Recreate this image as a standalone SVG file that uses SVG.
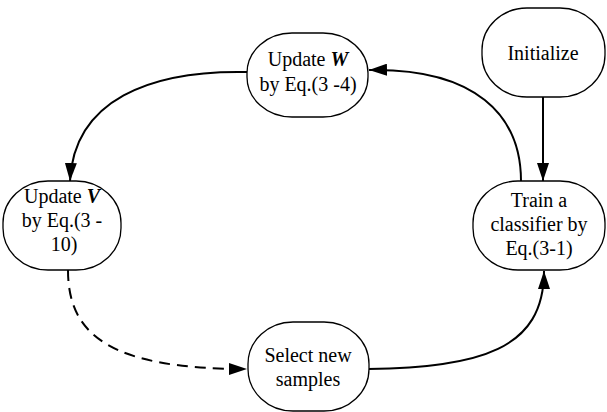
<svg xmlns="http://www.w3.org/2000/svg" width="607" height="412" viewBox="0 0 607 412">
<style>
.node{fill:#fff;stroke:#000;stroke-width:1.3}
text{font-family:'Liberation Serif','Times New Roman',Times,serif;font-size:20px;fill:#000;text-anchor:middle}
.bi{font-weight:bold;font-style:italic}
.c{fill:none;stroke:#000;stroke-width:2}
.d{stroke-dasharray:11,7}
</style>
<defs>
<marker id="ah" viewBox="0 0 18 12" refX="18" refY="6" markerWidth="18" markerHeight="12" markerUnits="userSpaceOnUse" orient="auto">
<path d="M0,0 L18,6 L0,12 Z" fill="#000"/>
</marker>
</defs>
<g id="connectors">
<path class="c" d="M543,97 L543,181" marker-end="url(#ah)"/>
<path class="c" d="M521,181 C521,115 475,68 369,70" marker-end="url(#ah)"/>
<path class="c" d="M247,72 C150,70 74,100 70,181" marker-end="url(#ah)"/>
<path class="c d" d="M68,270 C68,335 110,369 247,369" marker-end="url(#ah)"/>
<path class="c" d="M368,369 C480,367 544,350 544,271" marker-end="url(#ah)"/>
</g>
<g id="update-w">
<rect class="node" x="247" y="33" width="121" height="84" rx="45" ry="40"/>
<text x="308" y="66" font-family="Liberation Serif, serif">Update <tspan class="bi">W</tspan></text>
<text x="308" y="91" font-family="Liberation Serif, serif">by Eq.(3 -4)</text>
</g>
<g id="initialize">
<rect class="node" x="482" y="8" width="123" height="89" rx="45" ry="42"/>
<text x="543" y="60">Initialize</text>
</g>
<g id="train">
<rect class="node" x="473" y="181" width="132" height="89" rx="45" ry="42"/>
<text x="539" y="207">Train a</text>
<text x="539" y="231">classifier by</text>
<text x="539" y="255">Eq.(3-1)</text>
</g>
<g id="update-v">
<rect class="node" x="3" y="181" width="118" height="89" rx="45" ry="42"/>
<text x="62" y="203">Update <tspan class="bi">V</tspan></text>
<text x="62" y="227">by Eq.(3 -</text>
<text x="64" y="251">10)</text>
</g>
<g id="select">
<rect class="node" x="248" y="322" width="121" height="89" rx="45" ry="42"/>
<text x="308" y="362">Select new</text>
<text x="308" y="386">samples</text>
</g>
</svg>
